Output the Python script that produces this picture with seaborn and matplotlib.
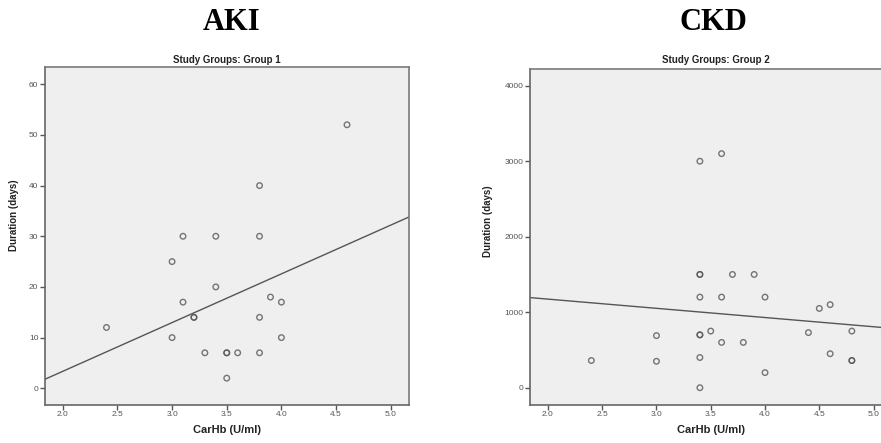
import numpy as np
import pandas as pd
import matplotlib
matplotlib.use("Agg")
import matplotlib.pyplot as plt
import seaborn as sns

# ---- data ----
aki_carhb = [4.6, 3.8, 3.1, 3.4, 3.8, 3.0, 3.4, 3.1, 3.2, 3.2, 2.4, 3.0,
             3.3, 3.5, 3.5, 3.6, 3.8, 3.5, 3.8, 3.9, 4.0, 4.0]
aki_duration = [52, 40, 30, 30, 30, 25, 20, 17, 14, 14, 12, 10,
                7, 7, 7, 7, 7, 2, 14, 18, 17, 10]

ckd_carhb = [3.4, 3.6, 3.4, 3.4, 3.7, 3.9, 3.4, 3.6, 4.0, 4.6, 4.5, 3.5,
             3.4, 3.4, 3.0, 3.6, 3.8, 4.4, 4.8, 2.4, 3.0, 3.4, 4.6, 4.8,
             4.8, 4.0, 3.4]
ckd_duration = [3000, 3100, 1500, 1500, 1500, 1500, 1200, 1200, 1200, 1100,
                1050, 750, 700, 700, 690, 600, 600, 730, 750, 360, 350, 400,
                450, 360, 360, 200, 0]

panel_titles = ["AKI", "CKD"]
group_titles = ["Study Groups: Group 1", "Study Groups: Group 2"]
x_ticks = [2.0, 2.5, 3.0, 3.5, 4.0, 4.5, 5.0]
aki_yticks = [0, 10, 20, 30, 40, 50, 60]
ckd_yticks = [0, 1000, 2000, 3000, 4000]
x_label = "CarHb (U/ml)"
y_label = "Duration (days)"

aki = pd.DataFrame({"carhb": aki_carhb, "duration": aki_duration})
ckd = pd.DataFrame({"carhb": ckd_carhb, "duration": ckd_duration})

sns.set_style("white")
plt.rcParams["font.family"] = ["Liberation Sans", "DejaVu Sans"]

W, H = 881, 443
fig = plt.figure(figsize=(W / 100, H / 100), dpi=100)
fig.patch.set_facecolor("white")

ax1 = fig.add_axes([44.7 / W, (H - 405) / H, (409 - 44.7) / W, (405 - 67) / H])
ax2 = fig.add_axes([530 / W, (H - 405) / H, (891.7 - 530) / W, (405 - 69) / H])

specs = [
    (ax1, aki, (-3.3, 63.4), aki_yticks, (-0.0705, 0.562)),
    (ax2, ckd, (-229, 4221), ckd_yticks, (-0.103, 0.546)),
]

for ax, df, ylim, yt, ylab_pos in specs:
    ax.set_facecolor("#efefef")
    ax.set_xlim(1.835, 5.167)
    ax.set_ylim(*ylim)
    sns.regplot(data=df, x="carhb", y="duration", ax=ax, ci=None,
                truncate=False,
                scatter_kws=dict(s=16, facecolors="none", edgecolors="#555555",
                                 linewidths=1.0),
                line_kws=dict(color="#555555", lw=1.0))
    ax.set_xlim(1.835, 5.167)
    ax.set_ylim(*ylim)
    ax.set_xticks(x_ticks)
    ax.set_xticklabels([f"{v:.1f}" for v in x_ticks])
    ax.set_yticks(yt)
    ax.tick_params(axis="both", which="both", direction="out", length=3.5,
                   width=1.0, color="#555555", labelsize=6, labelcolor="#555555",
                   pad=1, bottom=True, left=True, top=False, right=False)
    for side, sp in ax.spines.items():
        sp.set_visible(True)
        sp.set_color("#7a7a7a")
        sp.set_linewidth(1.2)
    ax.spines["left"].set_color("#666666")
    ax.spines["bottom"].set_color("#666666")
    ax.set_xlabel(x_label, fontsize=8, fontweight="bold", color="#222222",
                  labelpad=5)
    ax.set_ylabel(y_label, fontsize=7, fontweight="bold", color="#222222")
    ax.yaxis.set_label_coords(*ylab_pos)

ax1.set_title(group_titles[0], fontsize=7, fontweight="bold", color="#222222",
              pad=3)
ax2.set_title(group_titles[1], fontsize=7, fontweight="bold", color="#222222",
              pad=4.4, x=(715.8 - 530) / (891.7 - 530))

fig.text(231.7 / W, 1 - 22 / H, panel_titles[0], ha="center", va="center",
         fontsize=22, fontweight="bold", family=["Liberation Serif"],
         color="black")
fig.text(713 / W, 1 - 22 / H, panel_titles[1], ha="center", va="center",
         fontsize=22, fontweight="bold", family=["Liberation Serif"],
         color="black")

fig.savefig("out.png", dpi=100, facecolor="white")
